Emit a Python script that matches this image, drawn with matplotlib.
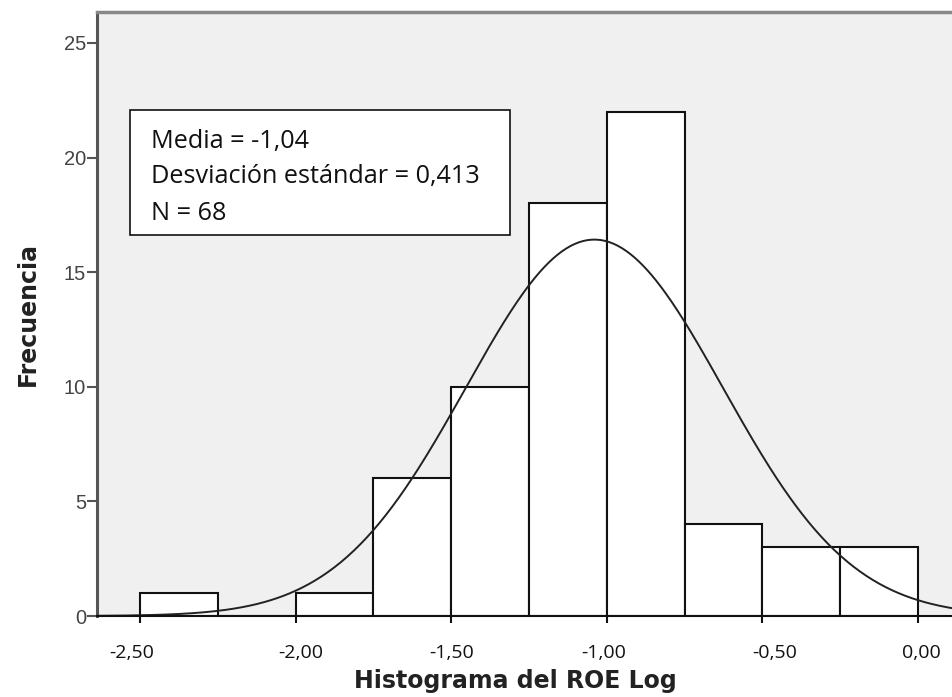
import numpy as np
import matplotlib
matplotlib.use("Agg")
import matplotlib.pyplot as plt
import matplotlib.transforms as mtransforms

# histogram bins (left edges) and counts
bin_left = [-2.50, -2.25, -2.00, -1.75, -1.50, -1.25, -1.00, -0.75, -0.50, -0.25]
counts = [1, 0, 1, 6, 10, 18, 22, 4, 3, 3]
bin_width = 0.25
media = -1.04
desv = 0.413
n = 68

xticks = [-2.5, -2.0, -1.5, -1.0, -0.5, 0.0]
xtick_labels = ["-2,50", "-2,00", "-1,50", "-1,00", "-0,50", "0,00"]
yticks = [0, 5, 10, 15, 20, 25]
info_lines = ["Media = -1,04", "Desviación estándar = 0,413", "N = 68"]

fig = plt.figure(figsize=(9.52, 6.97), dpi=100)
ax = fig.add_axes([97 / 952, 81 / 697, 855 / 952, 604 / 697])
ax.set_facecolor("#f0f0f0")

ax.bar(bin_left, counts, width=bin_width, align="edge",
       color="white", edgecolor="#111111", linewidth=1.5, zorder=2)

# normal curve scaled to counts
xs = np.linspace(-2.64, 0.11, 400)
ys = n * bin_width / (desv * np.sqrt(2 * np.pi)) * np.exp(-0.5 * ((xs - media) / desv) ** 2)
ax.plot(xs, ys, color="#222222", linewidth=1.4, zorder=3)

ax.set_xlim(-2.638, 0.109)
ax.set_ylim(0, 26.35)

ax.spines["right"].set_visible(False)
ax.spines["left"].set_color("#555555")
ax.spines["left"].set_linewidth(2.2)
ax.spines["top"].set_color("#888888")
ax.spines["top"].set_linewidth(2.5)
ax.spines["bottom"].set_color("#111111")
ax.spines["bottom"].set_linewidth(1.5)
ax.spines["bottom"].set_zorder(4)

ax.set_yticks(yticks)
ax.set_yticklabels([str(v) for v in yticks], family="Liberation Sans",
                   fontsize=14.5, color="#444444")
ax.tick_params(axis="y", direction="out", length=7, width=1.5, color="#555555", pad=1)

ax.set_xticks(xticks)
ax.set_xticklabels(xtick_labels, family="Open Sans", fontsize=14, color="#111111")
ax.tick_params(axis="x", direction="out", length=5, width=1.5, color="#111111", pad=15)

# the x labels in the original sit a little off their ticks
shifts_px = [-8.5, 5.5, 0, -3.5, 12, 3]
for lab, dx in zip(ax.get_xticklabels(), shifts_px):
    lab.set_transform(lab.get_transform() +
                      mtransforms.ScaledTranslation(dx / 100, 0, fig.dpi_scale_trans))

ax.set_ylabel("Frecuencia", family="DejaVu Sans", fontweight="bold",
              fontsize=17, color="#222222", labelpad=17)
ax.set_xlabel("Histograma del ROE Log", family="DejaVu Sans", fontweight="bold",
              fontsize=17, color="#222222", labelpad=5)
ax.xaxis.label.set_x(0.489)

# stats box
ax.add_patch(plt.Rectangle((0.0386, 0.631), 0.4444, 0.207, transform=ax.transAxes,
                           facecolor="white", edgecolor="#111111", linewidth=1.2, zorder=5))
for txt, yb in zip(info_lines, [0.7748, 0.7169, 0.6556]):
    ax.text(0.0632, yb, txt, transform=ax.transAxes, family="Open Sans",
            fontsize=18.2, va="baseline", ha="left", color="#111111", zorder=6)

fig.savefig("out.png", dpi=100)
